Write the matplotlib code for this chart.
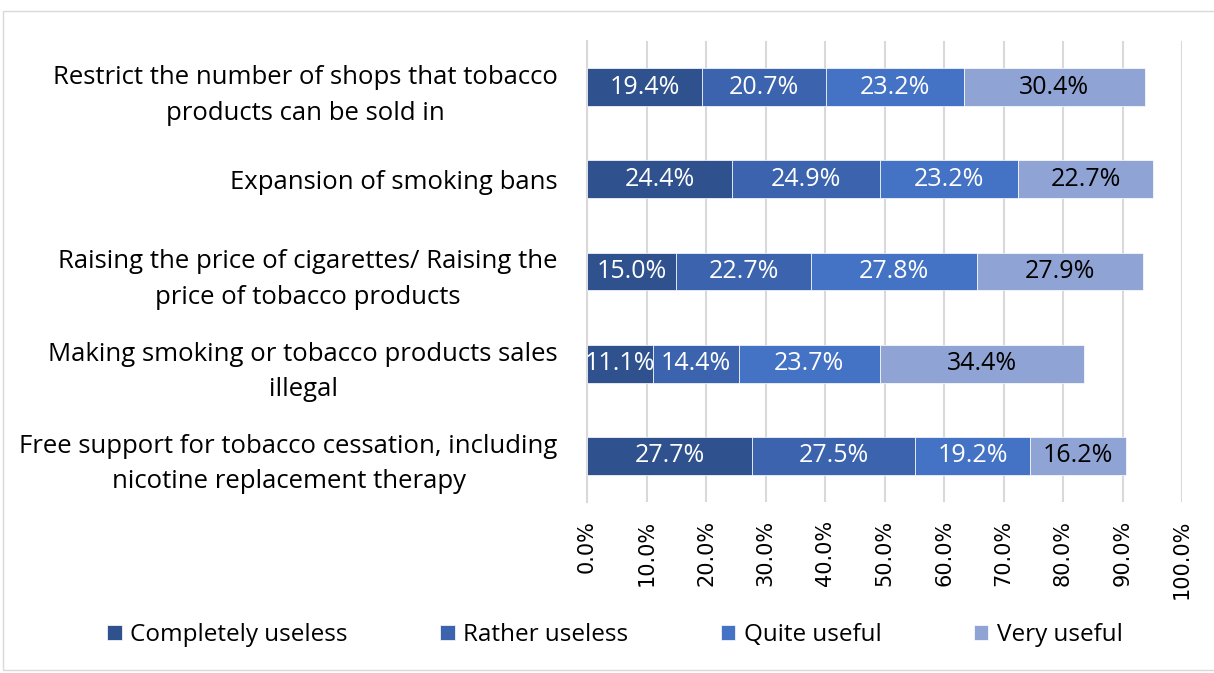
import numpy as np
import matplotlib
matplotlib.use("Agg")
import matplotlib.pyplot as plt
from matplotlib.patches import Rectangle

categories = [
    "Restrict the number of shops that tobacco\nproducts can be sold in",
    "Expansion of smoking bans",
    "Raising the price of cigarettes/ Raising the\nprice of tobacco products",
    "Making smoking or tobacco products sales\nillegal",
    "Free support for tobacco cessation, including\nnicotine replacement therapy",
]
series_names = ["Completely useless", "Rather useless", "Quite useful", "Very useful"]
completely_useless = [19.4, 24.4, 15.0, 11.1, 27.7]
rather_useless = [20.7, 24.9, 22.7, 14.4, 27.5]
quite_useful = [23.2, 23.2, 27.8, 23.7, 19.2]
very_useful = [30.4, 22.7, 27.9, 34.4, 16.2]
x_ticks = [0, 10, 20, 30, 40, 50, 60, 70, 80, 90, 100]

colors = ["#2F528F", "#3C64AE", "#4472C4", "#8FA4D4"]
text_colors = ["white", "white", "white", "black"]

plt.rcParams['font.family'] = ['Open Sans', 'DejaVu Sans']

fig = plt.figure(figsize=[12.14, 6.73], dpi=100)
W, H = 1214, 673
ax = fig.add_axes([587 / W, 1 - 502 / H, (1182 - 587) / W, (502 - 41) / H])

# outer frame
fig.patches.append(Rectangle((3 / W, 3 / H), 1.2, 1 - 14 / H, transform=fig.transFigure,
                             fill=False, edgecolor="#D9D9D9", linewidth=1))

y = np.arange(len(categories))
left = np.zeros(len(categories))
all_series = [completely_useless, rather_useless, quite_useful, very_useful]
for name, vals, color, tc in zip(series_names, all_series, colors, text_colors):
    vals = np.array(vals)
    ax.barh(y, vals, left=left, height=0.41, color=color, label=name,
            edgecolor="white", linewidth=0.5, zorder=3)
    for yi, l, v in zip(y, left, vals):
        ax.text(l + v / 2, yi, f"{v:.1f}%", ha="center", va="center",
                color=tc, fontsize=18, zorder=4)
    left = left + vals

ax.set_ylim(len(categories) - 0.5, -0.5)
ax.set_xlim(0, 100)
ax.set_xticks(x_ticks)
ax.set_xticklabels([f"{t:.1f}%" for t in x_ticks], rotation=90, fontsize=15,
                   family="DejaVu Sans")
ax.set_yticks(y)
ax.set_yticklabels(categories, fontsize=18.5, ha="right", multialignment="center",
                   linespacing=1.55)
ax.tick_params(axis="y", length=0, pad=21)
ax.tick_params(axis="x", length=0, pad=13)
ax.grid(axis="x", color="#D9D9D9", linewidth=1.5, zorder=0)
for s in ["top", "right", "bottom"]:
    ax.spines[s].set_visible(False)
ax.spines["left"].set_color("#D9D9D9")
ax.spines["left"].set_linewidth(1.5)

ax.legend(loc="center", bbox_to_anchor=(615 / W, 1 - 635 / H), bbox_transform=fig.transFigure,
          ncol=4, frameon=False, fontsize=17.5, handlelength=0.6, handleheight=0.6,
          handletextpad=0.35, columnspacing=3.8)

fig.savefig("out.png", dpi=100)
